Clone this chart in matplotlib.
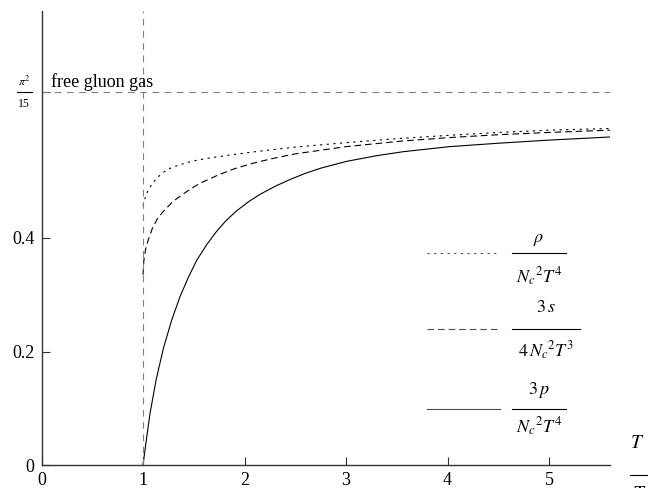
import matplotlib
matplotlib.use('Agg')
import matplotlib.pyplot as plt
from matplotlib.lines import Line2D
import numpy as np

# ---- data ----
T_p = [1.00, 1.035, 1.07, 1.13, 1.20, 1.28, 1.365, 1.45, 1.53, 1.63, 1.726, 1.82,
       1.923, 2.04, 2.153, 2.30, 2.447, 2.60, 2.75, 3.004, 3.30, 3.56, 4.02, 4.50, 5.00, 5.60]
p_vals = [0.000, 0.047, 0.092, 0.151, 0.205, 0.254, 0.297, 0.332, 0.361, 0.389, 0.412, 0.431,
          0.448, 0.464, 0.477, 0.491, 0.503, 0.514, 0.523, 0.535, 0.545, 0.552, 0.561, 0.567,
          0.5725, 0.578]

T_s = [1.000, 1.008, 1.025, 1.054, 1.09, 1.135, 1.20, 1.299, 1.40, 1.477, 1.562, 1.74,
       1.90, 2.067, 2.25, 2.49, 3.00, 3.56, 4.02, 4.50, 5.00, 5.60]
s_vals = [0.335, 0.360, 0.380, 0.398, 0.416, 0.432, 0.447, 0.465, 0.478, 0.4875, 0.4965, 0.511,
          0.522, 0.531, 0.539, 0.548, 0.561, 0.571, 0.577, 0.582, 0.586, 0.590]

T_rho = [1.000, 1.02, 1.05, 1.10, 1.15, 1.21, 1.28, 1.38, 1.477, 1.62, 1.77, 1.93,
         2.10, 2.49, 3.00, 3.50, 4.02, 4.50, 5.00, 5.60]
rho_vals = [0.457, 0.470, 0.4846, 0.498, 0.508, 0.517, 0.524, 0.530, 0.535, 0.540, 0.544, 0.548,
            0.552, 0.560, 0.568, 0.575, 0.581, 0.586, 0.590, 0.593]

x_ticks = [0, 1, 2, 3, 4, 5]
x_tick_labels = ['0', '1', '2', '3', '4', '5']
y_ticks = [0, 0.2, 0.4]
y_tick_labels = ['0', '0.2', '0.4']
free_gas = np.pi ** 2 / 15
T_c = 1.0

plt.rcParams['font.family'] = ['Liberation Serif', 'DejaVu Serif']
plt.rcParams['mathtext.fontset'] = 'stix'

W, H = 648, 488
fig = plt.figure(figsize=(W / 100, H / 100), dpi=100)
L, R, TOP, BOT = 41.5, 610, 11, 465
ax = fig.add_axes([L / W, 1 - BOT / H, (R - L) / W, (BOT - TOP) / H])
ax.set_xlim(0, 5.6)
ax.set_ylim(0, 0.8)

lw = 0.8
ax.plot(T_rho, rho_vals, color='k', lw=lw, ls=(0, (2, 4)))
ax.plot(T_s, s_vals, color='k', lw=lw, ls=(0, (6, 3.5)))
ax.plot(T_p, p_vals, color='k', lw=lw, ls='-')

ax.axhline(free_gas, color='0.5', lw=lw, ls=(0, (6, 5)))
ax.axvline(T_c, color='0.5', lw=lw, ls=(0, (6, 5)))

for side in ['top', 'right']:
    ax.spines[side].set_visible(False)
for side in ['left', 'bottom']:
    ax.spines[side].set_linewidth(1.0)
    ax.spines[side].set_color('0.2')

ax.set_xticks(x_ticks)
ax.set_xticklabels(x_tick_labels)
ax.set_yticks(y_ticks + [free_gas])
ax.set_yticklabels(y_tick_labels + [''])
ax.tick_params(direction='in', length=5.5, width=0.8, labelsize=13, pad=5, color='0.2')


def ftext(x, y, s, **kw):
    fig.text(x / W, 1 - y / H, s, **kw)


def fline(x0, x1, y, **kw):
    fig.add_artist(Line2D([x0 / W, x1 / W], [1 - y / H, 1 - y / H],
                          transform=fig.transFigure, **kw))


# pi^2/15 label
ftext(24, 82, r'$\pi^2$', ha='center', va='center', fontsize=8.5)
fline(17, 32, 92, color='k', lw=0.8)
ftext(24, 104, '15', ha='center', va='center', fontsize=8.5)

ftext(51, 87, 'free gluon gas', ha='left', va='baseline', fontsize=13)

# legend
entries = [
    ((0, (2, 4)), 253, 512, 566, r'$\rho$', 239, r'$N_c{}^2T^4$', 277),
    ((0, (6, 3.5)), 329, 512, 580, r'$3\,s$', 308, r'$4\,N_c{}^2T^3$', 351),
    ('-', 409, 512, 566, r'$3\,p$', 390, r'$N_c{}^2T^4$', 427),
]
for ls, ys, bx0, bx1, num, yn, den, yd in entries:
    fline(427, 500, ys, color='0.3', lw=lw, ls=ls)
    fline(bx0, bx1, ys, color='k', lw=0.8)
    xc = (bx0 + bx1) / 2
    ftext(xc, yn, num, ha='center', va='center', fontsize=13)
    ftext(xc, yd, den, ha='center', va='center', fontsize=13)

# x label T/T_c (partly beyond the right/bottom edge, as in the reference)
ftext(637, 444, r'$T$', ha='center', va='center', fontsize=14)
fline(630, 648, 475, color='k', lw=0.8)
ftext(641, 484, r'$T_c$', ha='center', va='top', fontsize=14)

fig.savefig('out.png', dpi=100)
